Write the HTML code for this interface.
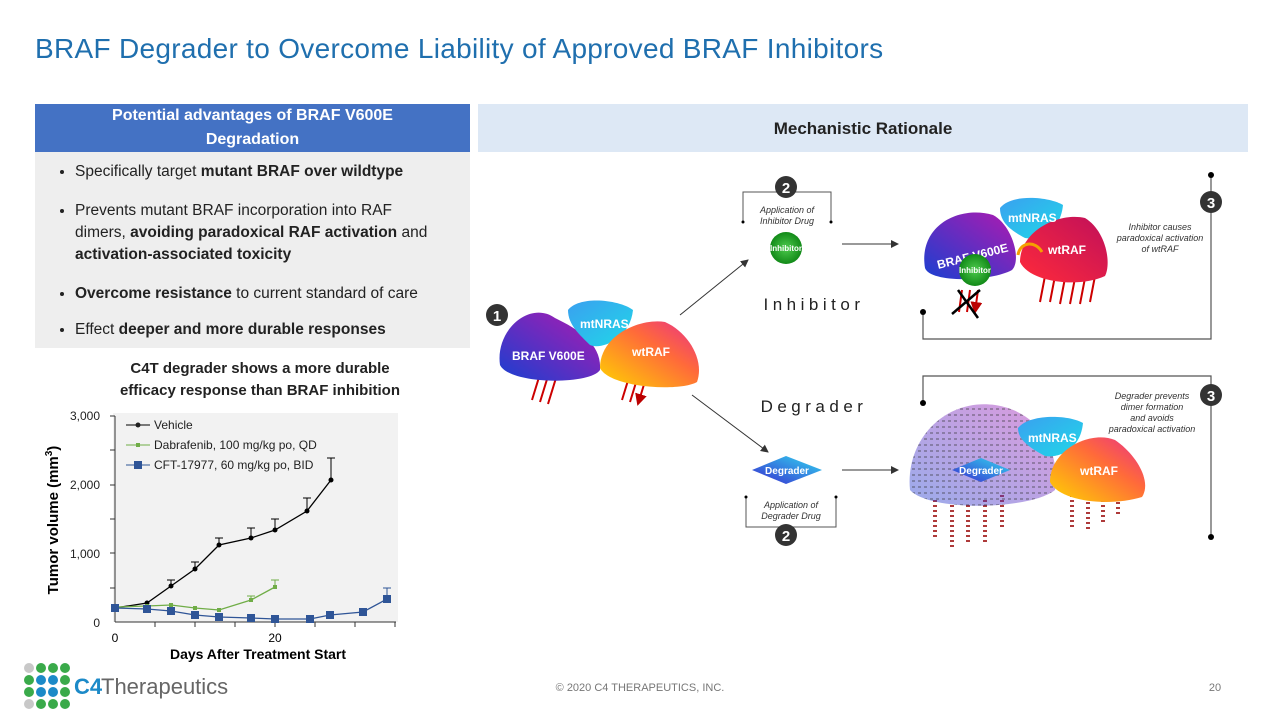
<!DOCTYPE html>
<html><head><meta charset="utf-8"><style>
body{margin:0;width:1280px;height:720px;background:#fff;font-family:"Liberation Sans",sans-serif;position:relative;overflow:hidden}
.a{position:absolute}
.title{left:35px;top:33px;font-size:28px;color:#1f6fae;letter-spacing:0.3px}
.hdr{left:35px;top:104px;width:435px;height:48px;background:#4472c4;color:#fff;font-weight:bold;font-size:16px;text-align:center;line-height:24px}
.box{left:35px;top:152px;width:435px;height:196px;background:#eeeeee}
.box ul{margin:0;padding:0 14px 0 40px;font-size:15.5px;color:#222;line-height:22px}
.box li{margin-top:9px}
.mr{left:478px;top:104px;width:770px;height:48px;background:#dde8f5;font-weight:bold;font-size:17px;text-align:center;line-height:50px;color:#222}
.it{position:absolute;font-style:italic;font-size:9px;color:#333;text-align:center;line-height:11px}
</style></head><body>
<div class="a title">BRAF Degrader to Overcome Liability of Approved BRAF Inhibitors</div>
<div class="a hdr">Potential advantages of BRAF V600E<br>Degradation</div>
<div class="a box"><ul>
<li>Specifically target <b>mutant BRAF over wildtype</b></li>
<li style="margin-top:17px">Prevents mutant BRAF incorporation into RAF<br>dimers, <b>avoiding paradoxical RAF activation</b> and <b>activation-associated toxicity</b></li>
<li style="margin-top:17px"><b>Overcome resistance</b> to current standard of care</li>
<li style="margin-top:14px">Effect <b>deeper and more durable responses</b></li></ul></div>
<div class="a mr">Mechanistic Rationale</div>
<div class="a" style="left:60px;top:358px;width:400px;text-align:center;font-weight:bold;font-size:15px;line-height:22px;color:#222">C4T degrader shows a more durable<br>efficacy response than BRAF inhibition</div>

<svg class="a" style="left:0;top:0" width="1280" height="720">
<defs>
<linearGradient id="gb" x1="0" y1="1" x2="1" y2="0"><stop offset="0" stop-color="#1a3fd0"/><stop offset="1" stop-color="#b01ab0"/></linearGradient>
<linearGradient id="gw" x1="0" y1="1" x2="1" y2="0"><stop offset="0" stop-color="#ffd400"/><stop offset=".6" stop-color="#ff6a3a"/><stop offset="1" stop-color="#e8308a"/></linearGradient>
<linearGradient id="gr" x1="0" y1="1" x2="1" y2="0"><stop offset="0" stop-color="#ff2a3a"/><stop offset="1" stop-color="#c0105a"/></linearGradient>
<linearGradient id="gn" x1="0" y1="0" x2="1" y2="1"><stop offset="0" stop-color="#3aa0f0"/><stop offset="1" stop-color="#20d8e8"/></linearGradient>
<radialGradient id="gg"><stop offset="0" stop-color="#4ecb4e"/><stop offset="1" stop-color="#128a18"/></radialGradient>
<linearGradient id="gd" x1="0" y1="1" x2="1" y2="0"><stop offset="0" stop-color="#3a2ad0"/><stop offset="1" stop-color="#30d8f0"/></linearGradient>
<pattern id="dots" width="6" height="6" patternUnits="userSpaceOnUse"><rect width="3" height="2" fill="#fff" opacity="0"/><rect x="0" y="0" width="3" height="2"/></pattern>
<marker id="ar" markerWidth="8" markerHeight="8" refX="7" refY="4" orient="auto"><path d="M0,0L8,4L0,8z" fill="#333"/></marker>
<marker id="rr" markerWidth="6" markerHeight="6" refX="5" refY="3" orient="auto"><path d="M0,0L6,3L0,6z" fill="#b00"/></marker>
</defs>
<!-- chart -->
<rect x="113" y="413" width="285" height="209" fill="#f2f2f2"/>
<g font-size="12" fill="#222" text-anchor="end">
<text x="100" y="420">3,000</text><text x="100" y="489">2,000</text><text x="100" y="558">1,000</text><text x="100" y="627">0</text></g>
<line x1="115" y1="416" x2="115" y2="622" stroke="#333"/>
<line x1="115" y1="622" x2="396" y2="622" stroke="#333"/>
<g stroke="#333"><line x1="110" y1="416" x2="115" y2="416"/><line x1="110" y1="450" x2="115" y2="450"/><line x1="110" y1="485" x2="115" y2="485"/><line x1="110" y1="519" x2="115" y2="519"/><line x1="110" y1="553" x2="115" y2="553"/><line x1="110" y1="588" x2="115" y2="588"/>
<line x1="155" y1="622" x2="155" y2="627"/><line x1="195" y1="622" x2="195" y2="627"/><line x1="235" y1="622" x2="235" y2="627"/><line x1="275" y1="622" x2="275" y2="627"/><line x1="315" y1="622" x2="315" y2="627"/><line x1="355" y1="622" x2="355" y2="627"/><line x1="395" y1="622" x2="395" y2="627"/></g>
<text x="115" y="642" font-size="12" text-anchor="middle">0</text><text x="275" y="642" font-size="12" text-anchor="middle">20</text>
<text x="258" y="659" font-size="14" font-weight="bold" text-anchor="middle">Days After Treatment Start</text>
<text transform="translate(58,520) rotate(-90)" font-size="15" font-weight="bold" text-anchor="middle">Tumor volume (mm<tspan dy="-6" font-size="10">3</tspan><tspan dy="6">)</tspan></text>
<g stroke="#000" fill="none"><path d="M147,606v-3M171,586v-6M195,569v-7M219,545v-7M251,538v-10M275,530v-11M307,511v-13M331,480v-22"/><path d="M327,458h8M303,498h8M271,519h8M247,528h8M215,538h8M191,562h8M167,580h8"/></g>
<polyline points="115,608 147,603 171,586 195,569 219,545 251,538 275,530 307,511 331,480" fill="none" stroke="#000" stroke-width="1.3"/>
<g fill="#000"><circle cx="115" cy="608" r="2.5"/><circle cx="147" cy="603" r="2.5"/><circle cx="171" cy="586" r="2.5"/><circle cx="195" cy="569" r="2.5"/><circle cx="219" cy="545" r="2.5"/><circle cx="251" cy="538" r="2.5"/><circle cx="275" cy="530" r="2.5"/><circle cx="307" cy="511" r="2.5"/><circle cx="331" cy="480" r="2.5"/></g>
<path d="M275,587v-7M271,580h8M251,600v-4M247,596h8" stroke="#70ad47"/>
<polyline points="115,607 147,606 171,605 195,608 219,610 251,600 275,587" fill="none" stroke="#70ad47" stroke-width="1.3"/>
<g fill="#70ad47"><rect x="113" y="605" width="4" height="4"/><rect x="145" y="604" width="4" height="4"/><rect x="169" y="603" width="4" height="4"/><rect x="193" y="606" width="4" height="4"/><rect x="217" y="608" width="4" height="4"/><rect x="249" y="598" width="4" height="4"/><rect x="273" y="585" width="4" height="4"/></g>
<path d="M387,599v-11M383,588h8" stroke="#2f5597"/>
<polyline points="115,608 147,609 171,611 195,615 219,617 251,618 275,619 310,619 330,615 363,612 387,599" fill="none" stroke="#2f5597" stroke-width="1.3"/>
<g fill="#2f5597"><rect x="111" y="604" width="8" height="8"/><rect x="143" y="605" width="8" height="8"/><rect x="167" y="607" width="8" height="8"/><rect x="191" y="611" width="8" height="8"/><rect x="215" y="613" width="8" height="8"/><rect x="247" y="614" width="8" height="8"/><rect x="271" y="615" width="8" height="8"/><rect x="306" y="615" width="8" height="8"/><rect x="326" y="611" width="8" height="8"/><rect x="359" y="608" width="8" height="8"/><rect x="383" y="595" width="8" height="8"/></g>
<g font-size="12" fill="#222">
<line x1="126" y1="425" x2="150" y2="425" stroke="#000"/><circle cx="138" cy="425" r="2.5"/><text x="154" y="429">Vehicle</text>
<line x1="126" y1="445" x2="150" y2="445" stroke="#70ad47"/><rect x="136" y="443" width="4" height="4" fill="#70ad47"/><text x="154" y="449">Dabrafenib, 100 mg/kg po, QD</text>
<line x1="126" y1="465" x2="150" y2="465" stroke="#2f5597"/><rect x="134" y="461" width="8" height="8" fill="#2f5597"/><text x="154" y="469">CFT-17977, 60 mg/kg po, BID</text></g>

<!-- logo -->
<g><circle cx="29" cy="668" r="5" fill="#c8c8c8"/><circle cx="41" cy="668" r="5" fill="#3aaa4a"/><circle cx="53" cy="668" r="5" fill="#3aaa4a"/><circle cx="65" cy="668" r="5" fill="#3aaa4a"/>
<circle cx="29" cy="680" r="5" fill="#3aaa4a"/><circle cx="41" cy="680" r="5" fill="#1c8ac8"/><circle cx="53" cy="680" r="5" fill="#1c8ac8"/><circle cx="65" cy="680" r="5" fill="#3aaa4a"/>
<circle cx="29" cy="692" r="5" fill="#3aaa4a"/><circle cx="41" cy="692" r="5" fill="#1c8ac8"/><circle cx="53" cy="692" r="5" fill="#1c8ac8"/><circle cx="65" cy="692" r="5" fill="#3aaa4a"/>
<circle cx="29" cy="704" r="5" fill="#c8c8c8"/><circle cx="41" cy="704" r="5" fill="#3aaa4a"/><circle cx="53" cy="704" r="5" fill="#3aaa4a"/><circle cx="65" cy="704" r="5" fill="#3aaa4a"/></g>
<text x="74" y="694" font-size="22" font-weight="bold" fill="#1c8ac8">C4</text><text x="101" y="694" font-size="22" fill="#666">Therapeutics</text>
<text x="640" y="691" font-size="11" fill="#777" text-anchor="middle">© 2020 C4 THERAPEUTICS,   INC.</text>
<text x="1215" y="691" font-size="11" fill="#777" text-anchor="middle">20</text>

<!-- diagram left -->
<g stroke="#c00" stroke-width="2" marker-end="url(#rr)"><path d="M540,374l-8,26M548,376l-8,26M556,378l-8,26M630,374l-8,26M638,376l-8,26M646,378l-8,26"/></g>
<path d="M500,365 C495,330 530,300 555,318 C580,330 602,345 600,370 C590,385 510,385 500,365z" fill="url(#gb)"/>
<path d="M568,310 C580,295 620,300 633,310 C630,340 600,350 590,345 C580,335 568,325 568,310z" fill="url(#gn)"/>
<path d="M600,368 C600,335 640,318 665,322 C688,332 705,360 697,382 C680,392 610,388 600,368z" fill="url(#gw)"/>
<text x="512" y="360" font-size="12" font-weight="bold" fill="#fff">BRAF V600E</text>
<text x="580" y="328" font-size="12" font-weight="bold" fill="#fff">mtNRAS</text>
<text x="632" y="356" font-size="12" font-weight="bold" fill="#fff">wtRAF</text>
<circle cx="497" cy="315" r="11" fill="#333"/><text x="497" y="321" font-size="15" font-weight="bold" fill="#fff" text-anchor="middle">1</text>
<line x1="680" y1="315" x2="748" y2="260" stroke="#333" marker-end="url(#ar)"/>
<line x1="692" y1="395" x2="768" y2="452" stroke="#333" marker-end="url(#ar)"/>
<line x1="842" y1="244" x2="898" y2="244" stroke="#333" marker-end="url(#ar)"/>
<line x1="842" y1="470" x2="898" y2="470" stroke="#333" marker-end="url(#ar)"/>
<path d="M743,222v-30h88v30" fill="none" stroke="#555"/><circle cx="743" cy="222" r="1.5"/><circle cx="831" cy="222" r="1.5"/>
<path d="M746,497v30h90v-30" fill="none" stroke="#555"/><circle cx="746" cy="497" r="1.5"/><circle cx="836" cy="497" r="1.5"/>
<circle cx="786" cy="187" r="11" fill="#333"/><text x="786" y="193" font-size="15" font-weight="bold" fill="#fff" text-anchor="middle">2</text>
<circle cx="786" cy="535" r="11" fill="#333"/><text x="786" y="541" font-size="15" font-weight="bold" fill="#fff" text-anchor="middle">2</text>
<circle cx="786" cy="248" r="16" fill="url(#gg)"/><text x="786" y="251" font-size="8" font-weight="bold" fill="#fff" text-anchor="middle">Inhibitor</text>
<path d="M752,470L786,456L822,470L786,484z" fill="url(#gd)"/><text x="787" y="474" font-size="10" font-weight="bold" fill="#fff" text-anchor="middle">Degrader</text>
<text x="814" y="310" font-size="17" fill="#222" letter-spacing="4.5" text-anchor="middle">Inhibitor</text>
<text x="814" y="412" font-size="17" fill="#222" letter-spacing="4.5" text-anchor="middle">Degrader</text>
<!-- right frames -->
<path d="M1211,175v164H923v-27" fill="none" stroke="#555" stroke-width="1.2"/><circle cx="1211" cy="175" r="3"/><circle cx="923" cy="312" r="3"/>
<path d="M923,403v-27h288v162" fill="none" stroke="#555" stroke-width="1.2"/><circle cx="923" cy="403" r="3"/><circle cx="1211" cy="537" r="3"/>
<circle cx="1211" cy="202" r="11" fill="#333"/><text x="1211" y="208" font-size="15" font-weight="bold" fill="#fff" text-anchor="middle">3</text>
<circle cx="1211" cy="395" r="11" fill="#333"/><text x="1211" y="401" font-size="15" font-weight="bold" fill="#fff" text-anchor="middle">3</text>
<g stroke="#c00" stroke-width="2" marker-end="url(#rr)"><path d="M1045,276l-5,26M1055,276l-5,26M1065,278l-5,26M1075,278l-5,26M1085,278l-5,26M1095,276l-5,26M962,290l-3,22M970,290l-3,22M978,290l-3,22"/></g>
<path d="M925,268 C918,225 960,205 993,215 C1012,225 1022,260 1012,270 C990,282 930,283 925,268z" fill="url(#gb)"/>
<path d="M1000,208 C1012,193 1050,197 1063,205 C1060,235 1035,240 1025,238 C1010,230 1000,222 1000,208z" fill="url(#gn)"/>
<path d="M1020,262 C1020,230 1060,212 1085,218 C1105,230 1112,262 1105,276 C1080,288 1030,283 1020,262z" fill="url(#gr)"/>
<text x="935" y="262" font-size="12" font-weight="bold" fill="#fff" transform="rotate(-14 965 252)">BRAF V600E</text>
<text x="1008" y="222" font-size="12" font-weight="bold" fill="#fff">mtNRAS</text>
<text x="1048" y="254" font-size="12" font-weight="bold" fill="#fff">wtRAF</text>
<circle cx="975" cy="270" r="16" fill="url(#gg)"/><text x="975" y="273" font-size="8" font-weight="bold" fill="#fff" text-anchor="middle">Inhibitor</text>
<path d="M952,314L980,290M958,290L978,318" stroke="#000" stroke-width="2.5"/>
<path d="M1018,255 C1020,242 1035,240 1042,252" fill="none" stroke="#f5a000" stroke-width="3"/>
<!-- degrader cluster -->
<g stroke-dasharray="2 3" stroke-width="4" stroke="#a01818" opacity=".85"><path d="M935,500v40M952,505v45M968,505v40M985,500v45M1002,495v35M1072,490v40M1088,492v40M1103,490v35M1118,492v25"/></g>
<g opacity=".8">
<path d="M910,490 C905,440 945,398 995,405 C1040,412 1060,450 1055,490 C1030,510 930,512 910,490z" fill="url(#gb)" opacity=".55"/>
<path d="M910,490 C905,440 945,398 995,405 C1040,412 1060,450 1055,490 C1030,510 930,512 910,490z" fill="url(#dots)" opacity=".35"/>
</g>
<path d="M952,470L981,458L1010,470L981,482z" fill="url(#gd)"/><text x="981" y="474" font-size="10" font-weight="bold" fill="#fff" text-anchor="middle">Degrader</text>
<path d="M1018,428 C1030,413 1070,415 1083,423 C1080,453 1055,458 1045,456 C1030,448 1018,440 1018,428z" fill="url(#gn)"/>
<path d="M1050,482 C1050,450 1090,430 1115,440 C1137,455 1152,482 1142,497 C1110,507 1060,502 1050,482z" fill="url(#gw)"/>
<text x="1028" y="442" font-size="12" font-weight="bold" fill="#fff">mtNRAS</text>
<text x="1080" y="475" font-size="12" font-weight="bold" fill="#fff">wtRAF</text>
</svg>
<div class="it" style="left:744px;top:205px;width:86px">Application of<br>Inhibitor Drug</div>
<div class="it" style="left:746px;top:500px;width:90px">Application of<br>Degrader Drug</div>
<div class="it" style="left:1110px;top:222px;width:100px">Inhibitor causes<br>paradoxical activation<br>of wtRAF</div>
<div class="it" style="left:1098px;top:391px;width:108px">Degrader prevents<br>dimer formation<br>and avoids<br>paradoxical activation</div>
</body></html>
